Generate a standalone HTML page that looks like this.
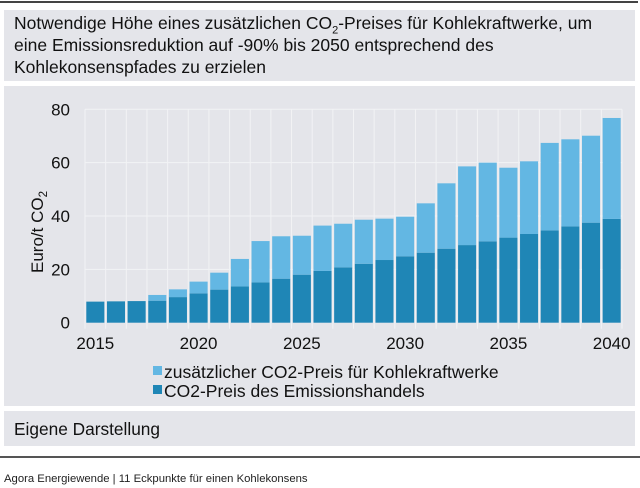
<!DOCTYPE html>
<html><head><meta charset="utf-8"><style>
body{margin:0;width:640px;height:488px;background:#fff;position:relative;font-family:"Liberation Sans",sans-serif;overflow:hidden}
.p{position:absolute;background:#e4e5ea}
</style></head><body>
<div style="position:absolute;left:0;top:1px;width:638px;height:2px;background:#444"></div>
<div class="p" style="left:4px;top:10px;width:631px;height:71px">
<div style="position:absolute;left:10px;top:2px;font-size:17.5px;line-height:22px;color:#111;white-space:nowrap">Notwendige Höhe eines zusätzlichen CO<sub style="font-size:11px;line-height:0">2</sub>-Preises für Kohlekraftwerke, um<br>eine Emissionsreduktion auf -90% bis 2050 entsprechend des<br>Kohlekonsenspfades zu erzielen</div></div>
<div class="p" style="left:4px;top:86px;width:631px;height:320px"></div>
<svg id="c" width="640" height="488" style="position:absolute;left:0;top:0"></svg>
<div class="p" style="left:4px;top:411px;width:631px;height:35px">
<div style="position:absolute;left:10px;top:8px;font-size:17.3px;color:#111">Eigene Darstellung</div></div>
<div style="position:absolute;left:0;top:456px;width:640px;height:2px;background:#555"></div>
<div style="position:absolute;left:4px;top:473px;font-size:11.3px;color:#222">Agora Energiewende | 11 Eckpunkte für einen Kohlekonsens</div>
<script>
const years=[2015,2016,2017,2018,2019,2020,2021,2022,2023,2024,2025,2026,2027,2028,2029,2030,2031,2032,2033,2034,2035,2036,2037,2038,2039,2040];
const etsPrice=[7.9,8,8.1,8.25,9.6,11,12.4,13.6,15.1,16.5,18,19.4,20.75,22.1,23.5,24.9,26.25,27.75,29.1,30.5,31.9,33.25,34.6,36.1,37.5,38.9];
const totalPrice=[7.9,8,8.1,10.4,12.5,15.4,18.75,23.9,30.6,32.4,32.6,36.4,37.1,38.6,39,39.75,44.75,52.25,58.6,60,58.1,60.5,67.4,68.75,70.1,76.75];
const extraPrice=totalPrice.map((t,i)=>Math.max(0,+(t-etsPrice[i]).toFixed(2)));
const yTicks=[0,20,40,60,80];
const xLabels=[2015,2020,2025,2030,2035,2040];
const NS="http://www.w3.org/2000/svg",svg=document.getElementById('c');
const L=85,R=622,Y0=322.7,Y80=109.3,bw=(R-L)/years.length;
const y=v=>Y0-(v/80)*(Y0-Y80);
const x=i=>L+i*bw;
function mk(t,a,txt){const e=document.createElementNS(NS,t);for(const k in a)e.setAttribute(k,a[k]);if(txt!=null)e.textContent=txt;svg.appendChild(e);return e;}
yTicks.forEach(v=>{if(v>0){const g=mk('line',{x1:L,x2:R,y1:y(v),y2:y(v),stroke:'#f2f3f5','stroke-width':1});

}
const t=mk('text',{x:70,y:y(v)+6,'text-anchor':'end','font-size':17,fill:'#111','font-family':'Liberation Sans,sans-serif'},v);

});
for(let i=0;i<=years.length;i++){const g=mk('line',{x1:x(i),x2:x(i),y1:Y80,y2:Y0+6,stroke:'#f2f3f5','stroke-width':1});

}
years.forEach((yr,i)=>{const bx=x(i)+1.3,w=bw-2.6;
const d=mk('rect',{x:bx,y:y(etsPrice[i]),width:w,height:Y0-y(etsPrice[i]),fill:'#1f86b6'});


if(extraPrice[i]>0){const e=mk('rect',{x:bx,y:y(etsPrice[i]+extraPrice[i]),width:w,height:y(etsPrice[i])-y(etsPrice[i]+extraPrice[i]),fill:'#63b7e3'});

}});
xLabels.forEach(yr=>{const i=years.indexOf(yr);const t=mk('text',{x:x(i)+bw/2,y:349,'text-anchor':'middle','font-size':17,fill:'#111','font-family':'Liberation Sans,sans-serif'},yr);

});
const yt=mk('text',{transform:'translate(43,232) rotate(-90)','text-anchor':'middle','font-size':17,fill:'#111','font-family':'Liberation Sans,sans-serif'},'Euro/t CO');


const ts=document.createElementNS(NS,'tspan');ts.setAttribute('font-size','11.5');ts.setAttribute('dy','4');ts.textContent='2';yt.appendChild(ts);
[['#63b7e3','zusätzlicher CO2-Preis für Kohlekraftwerke',378],['#1f86b6','CO2-Preis des Emissionshandels',397]].forEach(([c,l,yy],k)=>{
const r=mk('rect',{x:153,y:yy-12,width:9,height:9,fill:c});


const t=mk('text',{x:164,y:yy,'font-size':17.5,fill:'#111','font-family':'Liberation Sans,sans-serif'},l);

});
</script>
</body></html>
